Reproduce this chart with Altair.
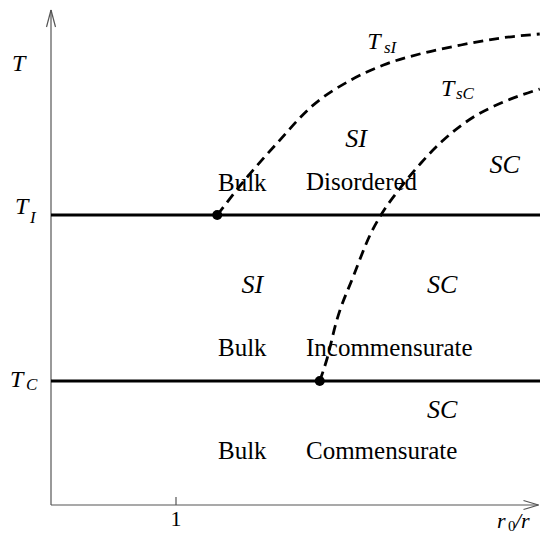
import altair as alt
import pandas as pd

# ---- schematic phase diagram values (x = r0/r, y = T) ----
X_MAX = 3.912
Y_MAX = 4.95
X_TIP = 3.90

T_I = 2.90
T_C = 1.24

TSI_X = [1.33, 1.57, 1.81, 2.08, 2.40, 2.66, 2.98, 3.28, 3.60, 3.91]
TSI_Y = [2.90, 3.28, 3.62, 3.98, 4.25, 4.40, 4.52, 4.60, 4.67, 4.71]

TSC_X = [2.15, 2.21, 2.28, 2.42, 2.56, 2.64, 2.80, 2.96, 3.14, 3.38, 3.62, 3.91]
TSC_Y = [1.24, 1.47, 1.82, 2.29, 2.72, 2.90, 3.18, 3.42, 3.65, 3.88, 4.03, 4.16]

DOT_X = [1.33, 2.15]
DOT_Y = [T_I, T_C]

PHASE_TEXT = ["Bulk", "Disordered", "Bulk", "Incommensurate", "Bulk", "Commensurate"]
PHASE_X = [1.336, 2.04, 1.336, 2.04, 1.336, 2.04]
PHASE_Y = [3.14, 3.15, 1.49, 1.49, 0.46, 0.46]

ORDER_TEXT = ["SI", "SC", "SI", "SC", "SC"]
ORDER_X = [2.44, 3.63, 1.61, 3.13, 3.13]
ORDER_Y = [3.58, 3.32, 2.12, 2.12, 0.87]

BIG_T_TEXT = ["T", "T", "T", "T", "T"]
BIG_T_X = [2.53, 3.12, -0.312, -0.288, -0.328]
BIG_T_Y = [4.56, 4.09, 4.34, 2.91, 1.18]

SUB_TEXT = ["sI", "sC", "I", "C"]
SUB_X = [2.664, 3.24, -0.168, -0.20]
SUB_Y = [4.52, 4.06, 2.82, 1.15]

TICK_VALUES = [1]
TICK_LABELS = ["1"]

XLAB_PARTS = ["r", "0", "/r"]
XLAB_X = [3.568, 3.656, 3.712]
XLAB_Y = [-0.23, -0.26, -0.23]

# ---- tables ----
xs = alt.Scale(domain=[0, X_MAX], nice=False, zero=False)
ys = alt.Scale(domain=[0, Y_MAX], nice=False, zero=False)

def X(f="x"):
    return alt.X(f"{f}:Q", scale=xs, axis=None)

def Y(f="y"):
    return alt.Y(f"{f}:Q", scale=ys, axis=None)

axes_df = pd.DataFrame({
    "x":  [0, 0, 0, 0, X_TIP, X_TIP, TICK_VALUES[0]],
    "y":  [0, Y_MAX, Y_MAX, 0, 0, 0, 0],
    "x2": [0, -0.036, 0.036, X_TIP, X_TIP - 0.12, X_TIP - 0.12, TICK_VALUES[0]],
    "y2": [Y_MAX, Y_MAX - 0.17, Y_MAX - 0.17, 0, 0.045, -0.045, 0.08],
})
hl_df = pd.DataFrame({"x": [0, 0], "x2": [X_MAX, X_MAX], "y": [T_I, T_C]})
curve_df = pd.concat([
    pd.DataFrame({"x": TSI_X, "y": TSI_Y, "curve": "TsI"}),
    pd.DataFrame({"x": TSC_X, "y": TSC_Y, "curve": "TsC"}),
])
dot_df = pd.DataFrame({"x": DOT_X, "y": DOT_Y})
phase_df = pd.DataFrame({"x": PHASE_X, "y": PHASE_Y, "t": PHASE_TEXT})
order_df = pd.DataFrame({"x": ORDER_X, "y": ORDER_Y, "t": ORDER_TEXT})
bigt_df = pd.DataFrame({"x": BIG_T_X, "y": BIG_T_Y, "t": BIG_T_TEXT})
sub_df = pd.DataFrame({"x": SUB_X, "y": SUB_Y, "t": SUB_TEXT})
tick_df = pd.DataFrame({"x": TICK_VALUES, "y": [-0.21], "t": TICK_LABELS})
xlab_df = pd.DataFrame({"x": XLAB_X, "y": XLAB_Y, "t": XLAB_PARTS})

SERIF = "'Liberation Serif', 'DejaVu Serif', serif"

axes = alt.Chart(axes_df).mark_rule(color="#555555", strokeWidth=1.2).encode(
    x=X(), y=Y(), x2="x2:Q", y2="y2:Q")
hlines = alt.Chart(hl_df).mark_rule(color="black", strokeWidth=3).encode(
    x=X(), x2="x2:Q", y=Y())
curves = alt.Chart(curve_df).mark_line(
    color="black", strokeWidth=2.8, strokeDash=[10, 6], interpolate="monotone"
).encode(x=X(), y=Y(), detail="curve:N")
dots = alt.Chart(dot_df).mark_circle(color="black", size=100, opacity=1).encode(x=X(), y=Y())

phase = alt.Chart(phase_df).mark_text(
    font=SERIF, fontSize=25, align="left", baseline="alphabetic", color="black"
).encode(x=X(), y=Y(), text="t:N")
order = alt.Chart(order_df).mark_text(
    font=SERIF, fontSize=26, fontStyle="italic", align="center", baseline="alphabetic", color="black"
).encode(x=X(), y=Y(), text="t:N")
bigt = alt.Chart(bigt_df).mark_text(
    font=SERIF, fontSize=24, fontStyle="italic", align="left", baseline="alphabetic", color="black"
).encode(x=X(), y=Y(), text="t:N")
subs = alt.Chart(sub_df).mark_text(
    font=SERIF, fontSize=17, fontStyle="italic", align="left", baseline="alphabetic", color="black"
).encode(x=X(), y=Y(), text="t:N")
ticks = alt.Chart(tick_df).mark_text(
    font=SERIF, fontSize=22, align="center", baseline="alphabetic", color="black"
).encode(x=X(), y=Y(), text="t:N")
xlab_main = alt.Chart(xlab_df[xlab_df.t != "0"]).mark_text(
    font=SERIF, fontSize=22, fontStyle="italic", align="left", baseline="alphabetic", color="black"
).encode(x=X(), y=Y(), text="t:N")
xlab_sub = alt.Chart(xlab_df[xlab_df.t == "0"]).mark_text(
    font=SERIF, fontSize=15, align="left", baseline="alphabetic", color="black"
).encode(x=X(), y=Y(), text="t:N")

chart = alt.layer(
    axes, hlines, curves, dots, phase, order, bigt, subs, ticks, xlab_main, xlab_sub
).properties(
    width=489, height=495,
    padding={"left": 43, "top": 2, "right": 0, "bottom": 29},
    autosize=alt.AutoSizeParams(type="none"),
    background="white",
).configure_view(strokeWidth=0)

chart.save("out.html", embed_options={"renderer": "svg", "actions": False})
